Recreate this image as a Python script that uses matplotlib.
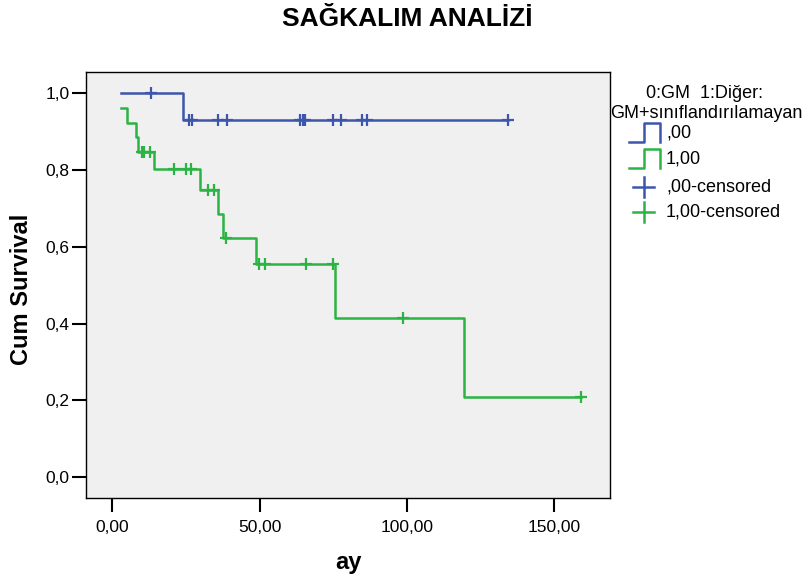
import numpy as np
import matplotlib
matplotlib.use('Agg')
import matplotlib.pyplot as plt
from matplotlib.lines import Line2D
from matplotlib.ticker import FuncFormatter

plt.rcParams['font.family'] = ['Liberation Sans', 'DejaVu Sans']

# Kaplan-Meier steps, group 0 (GM)
gm_times = [3.0, 24.0]
gm_surv = [1.0, 0.9286]
gm_end = 134.3
gm_cens = [13.1, 26.1, 26.9, 35.9, 38.9, 63.7, 64.6, 65.5, 74.8, 77.7, 84.6, 86.5, 134.3]

# Kaplan-Meier steps, group 1 (Diğer)
dg_times = [3.0, 5.0, 8.0, 8.9, 14.1, 29.9, 35.9, 37.5, 48.9, 75.6, 119.5]
dg_surv = [0.9615, 0.9231, 0.8846, 0.8462, 0.8013, 0.7479, 0.6856, 0.6232, 0.5540, 0.4155, 0.2077]
dg_end = 159.2
dg_cens = [10.1, 10.9, 12.8, 20.9, 24.9, 26.7, 32.6, 34.6, 38.6,
           49.8, 51.7, 65.6, 74.8, 98.5, 159.2]

x_ticks = [0, 50, 100, 150]
y_ticks = [0.0, 0.2, 0.4, 0.6, 0.8, 1.0]

blue = '#3d55ab'
green = '#2bb443'


def surv_at(times, surv, t):
    i = np.searchsorted(times, t, side='right') - 1
    return np.asarray(surv)[i]


fig = plt.figure(figsize=(8.05, 5.80), dpi=100)
ax = fig.add_axes([86 / 805, 1 - 498 / 580, 524 / 805, 426 / 580])
ax.set_facecolor('#f0f0f0')

for times, surv, end, cens, col in [(gm_times, gm_surv, gm_end, gm_cens, blue),
                                    (dg_times, dg_surv, dg_end, dg_cens, green)]:
    ax.step(times + [end], surv + [surv[-1]], where='post', color=col, lw=1.8)
    ax.plot(cens, surv_at(times, surv, cens), ls='none', marker='+',
            ms=8.5, mew=1.6, color=col)

ax.set_xlim(-8.9, 168.9)
ax.set_ylim(-0.054, 1.0546)
ax.set_xticks(x_ticks)
ax.set_yticks(y_ticks)
ax.xaxis.set_major_formatter(FuncFormatter(lambda v, p: f'{v:.2f}'.replace('.', ',')))
ax.yaxis.set_major_formatter(FuncFormatter(lambda v, p: f'{v:.1f}'.replace('.', ',')))
ax.tick_params(axis='both', direction='out', length=10, width=1.5, labelsize=12.5,
               color='black')
ax.tick_params(axis='x', pad=6)
ax.tick_params(axis='y', pad=2)
for s in ax.spines.values():
    s.set_linewidth(1.0)

fig.text(407 / 805, 1 - 19 / 580, 'SAĞKALIM ANALİZİ', ha='center', va='center',
         fontsize=19, fontweight='bold')
fig.text(22 / 805, 1 - 289 / 580, 'Cum Survival', ha='center', va='center',
         rotation=90, fontsize=17, fontweight='bold')
fig.text(348 / 805, 1 - 563 / 580, 'ay', ha='center', va='center',
         fontsize=17, fontweight='bold')


# legend drawn in pixel positions of the figure
def fx(x):
    return x / 805


def fy(y):
    return 1 - y / 580


fig.text(fx(704), fy(93), '0:GM  1:Diğer:', ha='center', va='center', fontsize=13)
fig.text(fx(706), fy(113), 'GM+sınıflandırılamayan', ha='center', va='center', fontsize=13)

for y0, col, lab in [(133, blue, ',00'), (159, green, '1,00')]:
    xs = [629, 644, 644, 660, 660]
    ys = [y0 + 9, y0 + 9, y0 - 10, y0 - 10, y0 + 9]
    fig.add_artist(Line2D([fx(v) for v in xs], [fy(v) for v in ys], color=col, lw=1.8))
    fig.text(fx(666), fy(y0), lab, ha='left', va='center', fontsize=13)

for y0, col, lab in [(187, blue, ',00-censored'), (212, green, '1,00-censored')]:
    fig.add_artist(Line2D([fx(633), fx(654)], [fy(y0), fy(y0)], color=col, lw=1.8))
    fig.add_artist(Line2D([fx(643.5), fx(643.5)], [fy(y0 - 10), fy(y0 + 10)], color=col, lw=1.8))
    fig.text(fx(666), fy(y0), lab, ha='left', va='center', fontsize=13)

fig.savefig('out.png', dpi=100)
